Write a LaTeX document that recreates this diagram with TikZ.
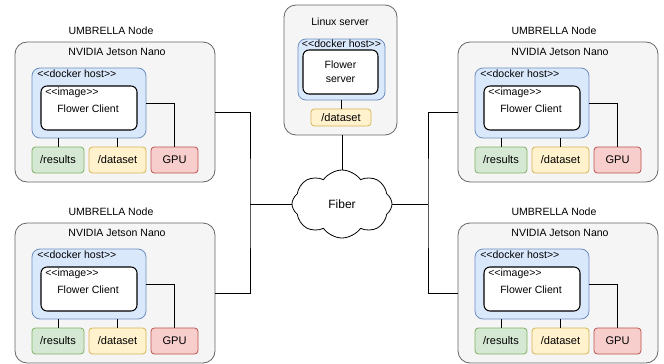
\documentclass[tikz,border=0pt]{standalone}
\usepackage{fontspec}
\setmainfont{Liberation Sans}
\usetikzlibrary{shapes.symbols,positioning}

\definecolor{boxfill}{HTML}{F5F5F5}
\definecolor{boxline}{HTML}{666666}
\definecolor{dockfill}{HTML}{DAE8FC}
\definecolor{dockline}{HTML}{6C8EBF}
\definecolor{resfill}{HTML}{D5E8D4}
\definecolor{resline}{HTML}{82B366}
\definecolor{datfill}{HTML}{FFF2CC}
\definecolor{datline}{HTML}{D6B656}
\definecolor{gpufill}{HTML}{F8CECC}
\definecolor{gpuline}{HTML}{B85450}

\newcommand{\stereo}[1]{<\kern0pt<#1>\kern0pt>}

\begin{document}
\begin{tikzpicture}[x=0.75pt, y=-0.75pt,
    lbl/.style={inner sep=0pt, font=\fontsize{7.9}{9.5}\selectfont},
    outer/.style={draw=boxline, fill=boxfill, rounded corners=9pt, line width=0.6pt, inner sep=0pt},
    dock/.style={draw=dockline, fill=dockfill, rounded corners=6pt, line width=0.6pt, inner sep=0pt},
    img/.style={draw, fill=white, rounded corners=4.5pt, line width=0.8pt, inner sep=0pt, font=\fontsize{7.9}{9.5}\selectfont},
    store/.style={rounded corners=2.5pt, line width=0.6pt, inner sep=0pt, minimum height=19.5pt, font=\fontsize{8.3}{10}\selectfont},
    res/.style={store, draw=resline, fill=resfill},
    dset/.style={store, draw=datline, fill=datfill},
    gpu/.style={store, draw=gpuline, fill=gpufill},
    wire/.style={line width=0.6pt}
]
\useasboundingbox (0,0) rectangle (664,364);

% four UMBRELLA nodes
\foreach \g/\ox/\oy in {tl/0/0, bl/0/181, tr/443/0, br/443/181} {
  \node[lbl] (ttl\g) at (\ox+111,\oy+31) {UMBRELLA Node};
  \node[outer, minimum width=150pt, minimum height=105pt] (out\g) at (\ox+115,\oy+112) {};
  \node[lbl] (jn\g) at (\ox+117,\oy+52) {NVIDIA Jetson Nano};
  \node[dock, minimum width=85.5pt, minimum height=52.5pt] (dock\g) at (\ox+89,\oy+103) {};
  \node[lbl, anchor=west] (dl\g) at (\ox+37,\oy+74) {\stereo{docker host}};
  \node[img, minimum width=72pt, minimum height=33pt] (img\g) at (\ox+89,\oy+108) {};
  \node[lbl, anchor=west] (il\g) at (\ox+45,\oy+93) {\stereo{image}};
  \node[lbl] (fc\g) at (\ox+88,\oy+109) {Flower Client};
  \node[res, minimum width=39pt] (res\g) at (\ox+58,\oy+160) {/results};
  \node[dset, minimum width=42.75pt] (dat\g) at (\ox+117.5,\oy+160) {/dataset};
  \node[gpu, minimum width=35.25pt] (gpu\g) at (\ox+174.5,\oy+160) {GPU};
  \draw[wire] (res\g.north) -- (res\g.north |- dock\g.south);
  \draw[wire] (dat\g.north) -- (dat\g.north |- dock\g.south);
  \draw[wire] (dock\g.east) -| (gpu\g.north);
}

% server
\node[outer, minimum width=84.75pt, minimum height=97.5pt] (srv) at (340.5,70) {};
\node[lbl] (srvttl) at (340,22) {Linux server};
\node[dock, minimum width=65.25pt, minimum height=45.75pt] (sdock) at (341.5,69.5) {};
\node[lbl] (sdl) at (341.5,44) {\stereo{docker host}};
\node[img, minimum width=56.25pt, minimum height=33pt, align=center] (fsrv) at (340.5,72) {Flower\\[1pt]server};
\node[dset, minimum width=45pt, minimum height=12.75pt] (sdat) at (341,117.5) {/dataset};
\draw[wire] (sdat.north) -- (sdat.north |- sdock.south);

% network
\node[cloud, draw, fill=white, cloud puffs=8, cloud puff arc=110, aspect=1.5, line width=0.6pt, inner sep=0pt,
      minimum width=75pt, minimum height=51pt, font=\fontsize{9}{11}\selectfont] (fiber) at (342,204) {Fiber};
\coordinate (busl) at (250,204);
\coordinate (busr) at (428,204);
\draw[wire] (srv.south -| fiber.center) -- (fiber);
\draw[wire] (outtl.east) -| (busl) |- (outbl.east);
\draw[wire] (outtr.west) -| (busr) |- (outbr.west);
\draw[wire] (fiber) -- (busl);
\draw[wire] (fiber) -- (busr);
\end{tikzpicture}
\end{document}
